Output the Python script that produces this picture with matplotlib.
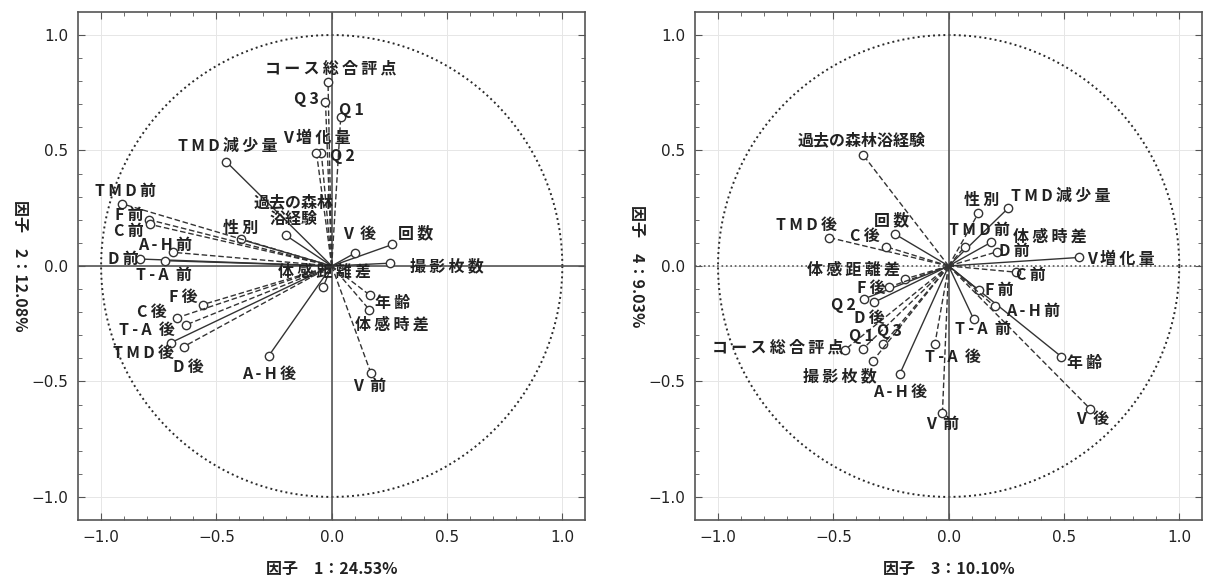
import matplotlib
matplotlib.use('Agg')
import matplotlib.pyplot as plt
import numpy as np

plt.rcParams['font.family'] = ['Noto Sans CJK JP', 'DejaVu Sans']

# variables
names = ['コース総合評点', 'Q1', 'Q2', 'Q3', 'V増化量', 'TMD減少量', '過去の森林浴経験',
         '性別', '年齢', '回数', '撮影枚数', '体感距離差', '体感時差',
         'TMD前', 'TMD後', 'F前', 'F後', 'C前', 'C後', 'A-H前', 'A-H後',
         'D前', 'D後', 'T-A前', 'T-A後', 'V前', 'V後']

# factor loadings, factor 1 / factor 2
f1 = [-0.016, 0.039, -0.045, -0.027, -0.066, -0.458, -0.198,
      -0.394, 0.166, 0.263, 0.251, -0.037, 0.163,
      -0.908, -0.697, -0.791, -0.558, -0.787, -0.672, -0.687, -0.273,
      -0.830, -0.641, -0.725, -0.634, 0.170, 0.103]
f2 = [0.795, 0.644, 0.490, 0.710, 0.490, 0.452, 0.132,
      0.115, -0.127, 0.093, 0.012, -0.091, -0.189,
      0.269, -0.332, 0.200, -0.167, 0.180, -0.225, 0.059, -0.389,
      0.030, -0.349, 0.023, -0.256, -0.464, 0.057]

# factor 3 / factor 4
f3 = [-0.450, -0.371, -0.368, -0.284, 0.567, 0.257, -0.371,
      0.129, 0.488, -0.231, -0.330, -0.188, 0.185,
      0.069, -0.518, 0.131, -0.260, 0.294, -0.270, 0.199, -0.212,
      0.209, -0.323, 0.108, -0.060, -0.027, 0.613]
f4 = [-0.363, -0.358, -0.143, -0.339, 0.037, 0.249, 0.481,
      0.229, -0.392, 0.137, -0.413, -0.056, 0.103,
      0.083, 0.123, -0.105, -0.092, -0.027, 0.083, -0.175, -0.468,
      0.061, -0.157, -0.229, -0.340, -0.637, -0.618]

axis_titles = [('因子　1：24.53%', '因子　2：12.08%'),
               ('因子　3：10.10%', '因子　4：9.03%')]

# where the labels sit (text centre, data units)
label_pos_left = {
    'コース総合評点': (-0.004, 0.853), 'Q3': (-0.108, 0.724), 'Q1': (0.084, 0.677),
    'V増化量': (-0.066, 0.555), 'Q2': (0.045, 0.476), 'TMD減少量': (-0.451, 0.519),
    '過去の森林浴経験': (-0.165, 0.24), 'TMD前': (-0.894, 0.323), 'F前': (-0.879, 0.219),
    'C前': (-0.879, 0.150), 'A-H前': (-0.722, 0.090), '性別': (-0.395, 0.166),
    'D前': (-0.905, 0.029), 'T-A前': (-0.729, -0.039), 'V後': (0.120, 0.140),
    '回数': (0.363, 0.140), '撮影枚数': (0.498, -0.003), '体感距離差': (-0.030, -0.024),
    '年齢': (0.263, -0.160), '体感時差': (0.263, -0.253), 'V前': (0.163, -0.520),
    'A-H後': (-0.273, -0.468), 'F後': (-0.644, -0.134), 'C後': (-0.779, -0.199),
    'T-A後': (-0.801, -0.275), 'TMD後': (-0.815, -0.378), 'D後': (-0.622, -0.439),
}
label_pos_right = {
    '過去の森林浴経験': (-0.378, 0.545), 'TMD後': (-0.616, 0.176), 'C後': (-0.364, 0.129),
    '回数': (-0.248, 0.200), '性別': (0.142, 0.286), 'TMD減少量': (0.488, 0.305),
    'TMD前': (0.134, 0.155), '体感時差': (0.437, 0.126), 'D前': (0.286, 0.064),
    'V増化量': (0.748, 0.033), 'C前': (0.358, -0.039), 'F前': (0.221, -0.103),
    'A-H前': (0.365, -0.196), 'T-A前': (0.149, -0.272), '年齢': (0.589, -0.421),
    'V後': (0.625, -0.664), 'T-A後': (0.019, -0.392), 'V前': (-0.025, -0.685),
    '体感距離差': (-0.414, -0.017), 'F後': (-0.335, -0.096), 'Q2': (-0.457, -0.167),
    'D後': (-0.342, -0.224), 'Q1': (-0.378, -0.303), 'Q3': (-0.255, -0.282),
    'コース総合評点': (-0.739, -0.353), '撮影枚数': (-0.472, -0.478), 'A-H後': (-0.212, -0.546),
}

dashed_left = {'コース総合評点', 'Q1', 'Q2', 'Q3', 'V増化量', 'TMD前', 'F前', 'C前',
               'A-H前', '年齢', '体感時差', 'V前', 'F後', 'C後', 'D後', 'T-A後'}
dashed_right = {'過去の森林浴経験', 'TMD後', 'C後', '性別', 'TMD前', 'D前', 'C前',
                'A-H前', 'V後', 'T-A後', 'V前', '撮影枚数', 'Q1', 'Q3',
                'コース総合評点', 'F後', '体感距離差'}

shown = {'V前': 'V  前', 'V後': 'V  後', 'T-A前': 'T-A  前', 'T-A後': 'T-A  後'}
tight = {'過去の森林浴経験'}


def spaced(s):
    out = ''
    for i, ch in enumerate(s):
        out += ch
        if i < len(s) - 1 and ch not in ' \n' and s[i + 1] not in ' \n':
            out += '\u2009'
    return out


def draw(ax, xs, ys, label_pos, dashed, titles, hline_style, display):
    t = np.linspace(0, 2 * np.pi, 400)
    ax.plot(np.cos(t), np.sin(t), ls=':', color='#2a2a2a', lw=1.4)
    ax.axvline(0, color='#555555', lw=1.2)
    ax.axhline(0, color='#555555', lw=1.2, ls=hline_style)
    for name, x, y in zip(names, xs, ys):
        ls = (0, (4, 2)) if name in dashed else '-'
        ax.plot([0, x], [0, y], color='#333333', lw=1.0, ls=ls)
        ax.plot(x, y, 'o', ms=6, mfc='white', mec='#333333', mew=1.0)
        lx, ly = label_pos[name]
        txt = display.get(name, shown.get(name, name))
        if name not in tight:
            txt = spaced(txt)
        ax.text(lx, ly, txt, ha='center', va='center',
                fontsize=11.5, fontweight='bold', color='#222222', linespacing=1.1)
    ax.set_xlim(-1.1, 1.1)
    ax.set_ylim(-1.1, 1.1)
    ax.set_xticks([-1.0, -0.5, 0.0, 0.5, 1.0])
    ax.set_yticks([-1.0, -0.5, 0.0, 0.5, 1.0])
    ax.set_xticks(np.arange(-1.0, 1.05, 0.1), minor=True)
    ax.set_yticks(np.arange(-1.0, 1.05, 0.1), minor=True)
    ax.set_xticklabels(['−1.0', '−0.5', '0.0', '0.5', '1.0'], family='DejaVu Sans')
    ax.set_yticklabels(['−1.0', '−0.5', '0.0', '0.5', '1.0'], family='DejaVu Sans')
    ax.tick_params(which='both', direction='in', top=True, right=True,
                   labelsize=11, color='#555555', labelcolor='#222222')
    ax.tick_params(which='major', length=5, pad=7)
    ax.tick_params(which='minor', length=3)
    ax.grid(True, color='#e6e6e6', lw=0.7)
    for sp in ax.spines.values():
        sp.set_color('#555555')
        sp.set_linewidth(1.2)
    ax.set_xlabel(titles[0], fontsize=11.5, fontweight='bold', labelpad=12, color='#222222')
    ax.set_ylabel(titles[1], fontsize=11.5, fontweight='bold', labelpad=14, rotation=270,
                  va='bottom', color='#222222')


fig = plt.figure(figsize=(12.08, 5.82), dpi=100)
ax1 = fig.add_axes([0.0646, 0.1065, 0.42, 0.873])
ax2 = fig.add_axes([0.5753, 0.1065, 0.42, 0.873])

draw(ax1, f1, f2, label_pos_left, dashed_left, axis_titles[0], '-',
     {'過去の森林浴経験': '過去の森林\n浴経験'})
draw(ax2, f3, f4, label_pos_right, dashed_right, axis_titles[1], ':', {})

fig.savefig('out.png', dpi=100)
